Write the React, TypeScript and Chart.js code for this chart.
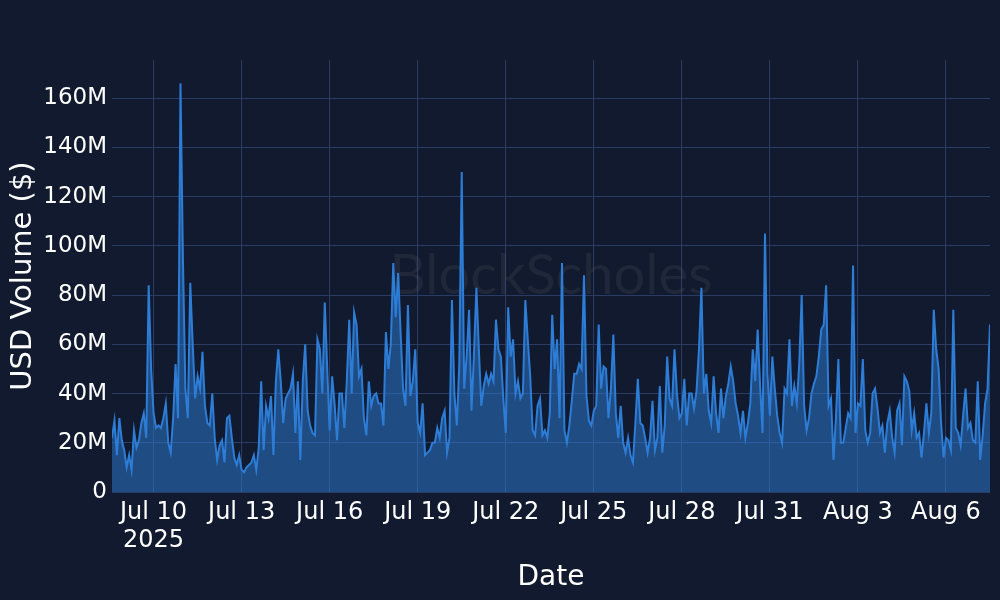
import React, { useEffect, useRef } from "react";
import { Chart, registerables } from "chart.js";

Chart.register(...registerables);

// 2-hourly USD volume (millions), starting 2025-07-08 14:00 UTC
const volumeJul08to13 = [
  22, 29, 15, 30, 21, 17, 10, 15, 9, 25, 18, 21, 28, 32, 22, 84, 50, 32, 26, 27,
  26, 30, 36, 20, 16, 30, 52, 30, 166, 95, 42, 30, 85, 60, 38, 47, 42, 57, 35, 28,
  27, 40, 22, 13, 19, 21, 12, 30, 31, 22, 14, 11, 15, 9, 8, 10, 11, 12, 15, 9,
];
const volumeJul13to18 = [
  18, 45, 17, 35, 30, 39, 15, 45, 58, 45, 28, 38, 40, 42, 48, 24, 45, 13, 45, 60,
  33, 27, 24, 23, 62, 58, 40, 77, 50, 25, 47, 36, 21, 40, 40, 26, 45, 70, 40, 73,
  68, 47, 50, 30, 23, 45, 35, 39, 40, 36, 36, 27, 65, 50, 60, 93, 71, 89, 65, 42,
];
const volumeJul18to23 = [
  35, 76, 39, 45, 58, 28, 24, 36, 15, 16, 17, 20, 20, 26, 22, 30, 33, 16, 22, 78,
  40, 27, 52, 130, 42, 55, 74, 33, 56, 83, 58, 35, 43, 48, 44, 48, 45, 70, 58, 55,
  38, 24, 75, 55, 62, 40, 45, 38, 40, 78, 62, 47, 25, 23, 35, 38, 23, 25, 22, 32,
];
const volumeJul23to28 = [
  72, 50, 62, 30, 93, 25, 20, 27, 37, 48, 48, 52, 50, 88, 39, 29, 27, 33, 35, 68,
  42, 51, 50, 30, 42, 64, 32, 22, 35, 20, 16, 22, 15, 12, 28, 46, 28, 27, 22, 16,
  22, 37, 17, 22, 43, 16, 27, 55, 38, 35, 58, 40, 30, 32, 46, 27, 40, 40, 34, 41,
];
const volumeJul28toAug02 = [
  58, 83, 40, 48, 33, 28, 47, 32, 24, 42, 30, 39, 44, 51, 45, 36, 31, 24, 33, 22,
  28, 36, 58, 45, 66, 43, 24, 105, 48, 31, 55, 42, 31, 24, 20, 42, 40, 62, 35, 43,
  36, 52, 80, 35, 25, 30, 40, 44, 47, 55, 66, 68, 84, 35, 38, 13, 30, 54, 20, 20,
];
const volumeAug02to07 = [
  26, 32, 30, 92, 24, 36, 35, 54, 25, 20, 24, 40, 42, 34, 24, 27, 16, 28, 33, 22,
  16, 33, 36, 19, 47, 45, 41, 25, 32, 22, 24, 14, 24, 36, 24, 32, 74, 58, 50, 28,
  14, 22, 21, 17, 74, 26, 24, 19, 31, 42, 26, 28, 21, 20, 45, 13, 23, 36, 42, 68,
];

const START_TIME = Date.UTC(2025, 6, 8, 14);
const STEP_MS = 2 * 3600 * 1000;

const tickDates = [
  "2025-07-10", "2025-07-13", "2025-07-16", "2025-07-19", "2025-07-22",
  "2025-07-25", "2025-07-28", "2025-07-31", "2025-08-03", "2025-08-06",
];
const tickLabels: (string | string[])[] = [
  ["Jul 10", "2025"], "Jul 13", "Jul 16", "Jul 19", "Jul 22",
  "Jul 25", "Jul 28", "Jul 31", "Aug 3", "Aug 6",
];
const yTickValues = [0, 20, 40, 60, 80, 100, 120, 140, 160];

const BG = "#111a2e";
const GRID = "#2a3c64";
const LINE = "rgb(45,125,215)";
const FILL = "rgba(45,125,215,0.5)";
const FONT = "'DejaVu Sans', Verdana, sans-serif";

export default function App() {
  const ref = useRef<HTMLCanvasElement | null>(null);

  useEffect(() => {
    document.body.style.margin = "0";
    document.body.style.background = BG;
    const values = [
      ...volumeJul08to13,
      ...volumeJul13to18,
      ...volumeJul18to23,
      ...volumeJul23to28,
      ...volumeJul28toAug02,
      ...volumeAug02to07,
    ];
    const points = values.map((v, i) => ({ x: START_TIME + i * STEP_MS, y: v }));
    const tickTimes = tickDates.map((d) => Date.parse(d + "T00:00:00Z"));

    const bgPlugin = {
      id: "bg",
      beforeDraw(chart: any) {
        const c = chart.ctx;
        c.save();
        c.fillStyle = BG;
        c.fillRect(0, 0, chart.width, chart.height);
        c.restore();
      },
      beforeDatasetsDraw(chart: any) {
        const { ctx: c, chartArea: a } = chart;
        c.save();
        c.font = "400 56px Lato, sans-serif";
        c.fillStyle = "rgba(150,150,150,0.11)";
        c.textAlign = "center";
        c.textBaseline = "middle";
        c.fillText("BlockScholes", (a.left + a.right) / 2, (a.top + a.bottom) / 2);
        c.restore();
      },
    };

    const chart = new Chart(ref.current!, {
      type: "line",
      data: {
        datasets: [
          {
            data: points,
            borderColor: LINE,
            backgroundColor: FILL,
            fill: "origin",
            borderWidth: 2,
            pointRadius: 0,
            tension: 0,
          },
        ],
      },
      options: {
        animation: false,
        responsive: false,
        maintainAspectRatio: false,
        layout: { padding: { top: 60, right: 10, left: 0, bottom: 0 } },
        plugins: { legend: { display: false }, tooltip: { enabled: false } },
        scales: {
          x: {
            type: "linear",
            min: START_TIME,
            max: START_TIME + (values.length - 1) * STEP_MS,
            afterBuildTicks: (s: any) => {
              s.ticks = tickTimes.map((t) => ({ value: t }));
            },
            afterFit: (s: any) => {
              s.height = 108;
            },
            ticks: {
              autoSkip: false,
              maxRotation: 0,
              color: "#ffffff",
              padding: 6,
              font: { family: FONT, size: 24 },
              callback: (v: any) => {
                const idx = tickTimes.indexOf(Number(v));
                return idx >= 0 ? tickLabels[idx] : "";
              },
            },
            grid: { color: GRID, lineWidth: 1, drawTicks: false },
            border: { display: false },
            title: {
              display: true,
              text: "Date",
              color: "#ffffff",
              font: { family: FONT, size: 28 },
              padding: { top: 0, bottom: 5 },
            },
          },
          y: {
            min: 0,
            max: 175.5,
            afterBuildTicks: (s: any) => {
              s.ticks = yTickValues.map((v) => ({ value: v }));
            },
            afterFit: (s: any) => {
              s.width = 112;
            },
            ticks: {
              color: "#ffffff",
              padding: 5,
              font: { family: FONT, size: 23 },
              callback: (v: any) => (Number(v) === 0 ? "0" : v + "M"),
            },
            grid: { color: GRID, lineWidth: 1, drawTicks: false },
            border: { display: false },
            title: {
              display: true,
              text: "USD Volume ($)",
              color: "#ffffff",
              font: { family: FONT, size: 29 },
              padding: { top: 6, bottom: 0 },
            },
          },
        },
      },
      plugins: [bgPlugin],
    });
    return () => chart.destroy();
  }, []);

  return (
    <div style={{ position: "fixed", left: 0, top: 0, width: 1000, height: 600, background: BG }}>
      <canvas ref={ref} width={1000} height={600} style={{ width: 1000, height: 600, display: "block" }} />
    </div>
  );
}
